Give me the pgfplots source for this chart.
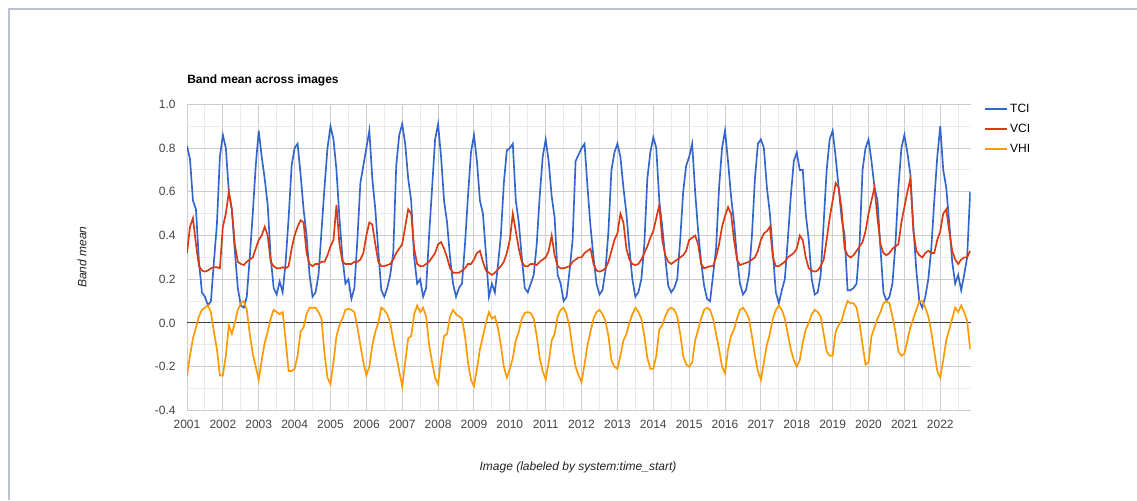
\documentclass[border=0pt]{standalone}
\usepackage{fontspec}
\setmainfont{Liberation Sans}
\usepackage{pgfplots}
\usepackage{pgfplotstable}
\pgfplotsset{compat=1.18}
\definecolor{tci}{RGB}{51,102,204}
\definecolor{vci}{RGB}{220,57,18}
\definecolor{vhi}{RGB}{255,153,0}
\definecolor{gmaj}{RGB}{204,204,204}
\definecolor{gmin}{RGB}{235,235,235}
\definecolor{frame}{RGB}{186,196,208}
\definecolor{ticktext}{RGB}{68,68,68}
\definecolor{labtext}{RGB}{34,34,34}
% y = year, m = month index (0 = January), t = TCI, v = VCI, h = VHI
\pgfplotstableread{
y m t v h
2001 0 0.81 0.32 -0.24
2001 1 0.75 0.44 -0.15
2001 2 0.56 0.48 -0.07
2001 3 0.52 0.36 -0.02
2001 4 0.28 0.26 0.03
2001 5 0.14 0.24 0.06
2001 6 0.12 0.235 0.07
2001 7 0.08 0.24 0.08
2001 8 0.10 0.25 0.05
2001 9 0.28 0.255 -0.04
2001 10 0.45 0.255 -0.12
2001 11 0.76 0.25 -0.24
2002 0 0.86 0.44 -0.24
2002 1 0.80 0.50 -0.15
2002 2 0.60 0.60 -0.01
2002 3 0.52 0.52 -0.05
2002 4 0.33 0.36 0.00
2002 5 0.16 0.28 0.06
2002 6 0.08 0.27 0.09
2002 7 0.07 0.265 0.10
2002 8 0.12 0.28 0.06
2002 9 0.30 0.29 -0.05
2002 10 0.50 0.30 -0.14
2002 11 0.72 0.34 -0.20
2003 0 0.88 0.38 -0.26
2003 1 0.76 0.40 -0.17
2003 2 0.66 0.44 -0.09
2003 3 0.54 0.40 -0.04
2003 4 0.30 0.28 0.02
2003 5 0.16 0.26 0.06
2003 6 0.13 0.25 0.05
2003 7 0.19 0.25 0.04
2003 8 0.14 0.255 0.05
2003 9 0.28 0.25 -0.08
2003 10 0.48 0.26 -0.22
2003 11 0.72 0.34 -0.22
2004 0 0.80 0.40 -0.21
2004 1 0.82 0.44 -0.15
2004 2 0.68 0.47 -0.04
2004 3 0.52 0.46 -0.02
2004 4 0.40 0.32 0.04
2004 5 0.22 0.27 0.07
2004 6 0.12 0.26 0.07
2004 7 0.14 0.27 0.07
2004 8 0.22 0.27 0.05
2004 9 0.42 0.28 0.02
2004 10 0.62 0.28 -0.14
2004 11 0.80 0.31 -0.25
2005 0 0.90 0.35 -0.28
2005 1 0.84 0.38 -0.18
2005 2 0.70 0.54 -0.06
2005 3 0.48 0.36 -0.01
2005 4 0.30 0.28 0.02
2005 5 0.18 0.27 0.06
2005 6 0.20 0.27 0.065
2005 7 0.11 0.27 0.06
2005 8 0.16 0.28 0.05
2005 9 0.38 0.28 -0.02
2005 10 0.64 0.29 -0.10
2005 11 0.72 0.32 -0.18
2006 0 0.80 0.40 -0.24
2006 1 0.88 0.46 -0.20
2006 2 0.66 0.45 -0.10
2006 3 0.52 0.36 -0.04
2006 4 0.33 0.28 0.00
2006 5 0.15 0.26 0.07
2006 6 0.12 0.26 0.06
2006 7 0.16 0.265 0.04
2006 8 0.22 0.27 0.00
2006 9 0.32 0.29 -0.08
2006 10 0.72 0.32 -0.15
2006 11 0.86 0.34 -0.22
2007 0 0.91 0.36 -0.29
2007 1 0.82 0.44 -0.18
2007 2 0.66 0.52 -0.07
2007 3 0.56 0.50 -0.06
2007 4 0.30 0.34 0.04
2007 5 0.18 0.27 0.08
2007 6 0.20 0.26 0.05
2007 7 0.12 0.26 0.07
2007 8 0.16 0.27 0.03
2007 9 0.40 0.28 -0.10
2007 10 0.62 0.30 -0.18
2007 11 0.84 0.32 -0.25
2008 0 0.91 0.36 -0.28
2008 1 0.76 0.37 -0.16
2008 2 0.56 0.34 -0.06
2008 3 0.46 0.30 -0.05
2008 4 0.30 0.25 0.03
2008 5 0.18 0.23 0.06
2008 6 0.12 0.23 0.04
2008 7 0.16 0.23 0.03
2008 8 0.18 0.24 0.02
2008 9 0.36 0.25 -0.06
2008 10 0.58 0.27 -0.18
2008 11 0.78 0.27 -0.26
2009 0 0.86 0.29 -0.29
2009 1 0.74 0.32 -0.21
2009 2 0.56 0.33 -0.12
2009 3 0.50 0.28 -0.06
2009 4 0.32 0.24 0.00
2009 5 0.12 0.23 0.05
2009 6 0.18 0.22 0.02
2009 7 0.14 0.23 0.03
2009 8 0.26 0.245 -0.02
2009 9 0.40 0.26 -0.10
2009 10 0.64 0.28 -0.20
2009 11 0.79 0.32 -0.25
2010 0 0.80 0.38 -0.21
2010 1 0.82 0.50 -0.16
2010 2 0.56 0.42 -0.08
2010 3 0.46 0.34 -0.04
2010 4 0.30 0.28 0.02
2010 5 0.16 0.26 0.045
2010 6 0.14 0.26 0.05
2010 7 0.18 0.27 0.045
2010 8 0.22 0.27 0.02
2010 9 0.36 0.265 -0.06
2010 10 0.58 0.28 -0.16
2010 11 0.76 0.29 -0.22
2011 0 0.84 0.30 -0.26
2011 1 0.74 0.33 -0.18
2011 2 0.58 0.40 -0.08
2011 3 0.48 0.31 -0.05
2011 4 0.22 0.26 0.03
2011 5 0.18 0.25 0.06
2011 6 0.10 0.25 0.07
2011 7 0.12 0.255 0.04
2011 8 0.24 0.26 -0.02
2011 9 0.38 0.28 -0.12
2011 10 0.74 0.29 -0.20
2011 11 0.77 0.30 -0.24
2012 0 0.80 0.30 -0.27
2012 1 0.82 0.32 -0.19
2012 2 0.62 0.33 -0.10
2012 3 0.44 0.34 -0.04
2012 4 0.30 0.27 0.02
2012 5 0.18 0.24 0.05
2012 6 0.13 0.235 0.06
2012 7 0.15 0.24 0.04
2012 8 0.24 0.25 0.01
2012 9 0.42 0.28 -0.06
2012 10 0.70 0.33 -0.17
2012 11 0.78 0.38 -0.20
2013 0 0.82 0.41 -0.21
2013 1 0.76 0.50 -0.15
2013 2 0.62 0.46 -0.08
2013 3 0.50 0.34 -0.05
2013 4 0.34 0.29 0.00
2013 5 0.20 0.27 0.04
2013 6 0.12 0.265 0.07
2013 7 0.14 0.27 0.05
2013 8 0.20 0.29 0.02
2013 9 0.36 0.32 -0.06
2013 10 0.66 0.35 -0.16
2013 11 0.78 0.39 -0.21
2014 0 0.85 0.42 -0.21
2014 1 0.80 0.48 -0.15
2014 2 0.56 0.54 -0.03
2014 3 0.44 0.38 -0.01
2014 4 0.30 0.31 0.03
2014 5 0.17 0.28 0.06
2014 6 0.14 0.27 0.07
2014 7 0.16 0.28 0.06
2014 8 0.20 0.29 0.03
2014 9 0.38 0.30 -0.05
2014 10 0.60 0.31 -0.15
2014 11 0.72 0.33 -0.19
2015 0 0.76 0.38 -0.20
2015 1 0.82 0.39 -0.18
2015 2 0.60 0.40 -0.08
2015 3 0.42 0.36 -0.03
2015 4 0.28 0.27 0.02
2015 5 0.17 0.25 0.06
2015 6 0.11 0.255 0.07
2015 7 0.10 0.26 0.06
2015 8 0.22 0.26 0.02
2015 9 0.34 0.30 -0.05
2015 10 0.62 0.36 -0.12
2015 11 0.80 0.44 -0.20
2016 0 0.88 0.49 -0.23
2016 1 0.74 0.53 -0.12
2016 2 0.58 0.50 -0.06
2016 3 0.46 0.38 -0.03
2016 4 0.30 0.29 0.02
2016 5 0.18 0.265 0.06
2016 6 0.13 0.27 0.07
2016 7 0.15 0.275 0.05
2016 8 0.22 0.28 0.02
2016 9 0.40 0.29 -0.06
2016 10 0.66 0.30 -0.15
2016 11 0.82 0.33 -0.22
2017 0 0.84 0.38 -0.26
2017 1 0.80 0.41 -0.18
2017 2 0.62 0.42 -0.10
2017 3 0.50 0.44 -0.05
2017 4 0.32 0.30 0.02
2017 5 0.14 0.26 0.06
2017 6 0.09 0.26 0.08
2017 7 0.15 0.27 0.06
2017 8 0.20 0.28 0.02
2017 9 0.38 0.30 -0.05
2017 10 0.58 0.31 -0.12
2017 11 0.74 0.32 -0.17
2018 0 0.78 0.34 -0.20
2018 1 0.70 0.40 -0.17
2018 2 0.70 0.38 -0.09
2018 3 0.50 0.30 -0.03
2018 4 0.38 0.25 0.00
2018 5 0.20 0.24 0.04
2018 6 0.13 0.235 0.06
2018 7 0.14 0.24 0.05
2018 8 0.22 0.26 0.03
2018 9 0.46 0.29 -0.05
2018 10 0.70 0.38 -0.13
2018 11 0.84 0.48 -0.15
2019 0 0.88 0.56 -0.15
2019 1 0.76 0.64 -0.04
2019 2 0.62 0.62 -0.01
2019 3 0.48 0.52 0.01
2019 4 0.40 0.34 0.06
2019 5 0.15 0.31 0.10
2019 6 0.15 0.30 0.09
2019 7 0.16 0.31 0.09
2019 8 0.18 0.33 0.07
2019 9 0.36 0.35 0.00
2019 10 0.70 0.37 -0.10
2019 11 0.80 0.42 -0.19
2020 0 0.84 0.50 -0.18
2020 1 0.74 0.56 -0.06
2020 2 0.62 0.62 -0.02
2020 3 0.56 0.48 0.02
2020 4 0.34 0.36 0.05
2020 5 0.14 0.32 0.09
2020 6 0.10 0.31 0.10
2020 7 0.12 0.32 0.09
2020 8 0.18 0.34 0.03
2020 9 0.36 0.35 -0.04
2020 10 0.62 0.36 -0.13
2020 11 0.80 0.46 -0.15
2021 0 0.86 0.53 -0.14
2021 1 0.78 0.60 -0.08
2021 2 0.68 0.66 -0.02
2021 3 0.44 0.42 0.02
2021 4 0.24 0.33 0.06
2021 5 0.10 0.31 0.10
2021 6 0.07 0.30 0.10
2021 7 0.12 0.32 0.07
2021 8 0.20 0.33 0.03
2021 9 0.34 0.32 -0.04
2021 10 0.56 0.32 -0.13
2021 11 0.76 0.38 -0.22
2022 0 0.90 0.42 -0.25
2022 1 0.70 0.50 -0.17
2022 2 0.62 0.52 -0.08
2022 3 0.46 0.42 -0.03
2022 4 0.28 0.33 0.02
2022 5 0.18 0.29 0.07
2022 6 0.22 0.27 0.05
2022 7 0.15 0.29 0.08
2022 8 0.22 0.30 0.05
2022 9 0.30 0.30 0.01
2022 10 0.60 0.33 -0.12
}\bandtable
\begin{document}
\begin{tikzpicture}
\useasboundingbox (0,0) rectangle (852.75pt,375pt);
\fill[white] (0,0) rectangle (852.75pt,375pt);
\draw[frame, line width=1.5pt] (6.75pt,0pt) -- (6.75pt,368.25pt) -- (852.75pt,368.25pt);
\begin{axis}[
  at={(140.25pt,67.2pt)}, anchor=south west,
  width=587.8pt, height=229.5pt, scale only axis,
  xmin=0, xmax=21.85, ymin=-0.4, ymax=1.0,
  axis line style={draw=none},
  tick style={draw=none},
  xtick={0,1,...,21},
  xticklabels={2001,2002,2003,2004,2005,2006,2007,2008,2009,2010,2011,2012,2013,2014,2015,2016,2017,2018,2019,2020,2021,2022},
  minor xtick={0.5,1.5,...,21.5},
  ytick={-0.4,-0.2,0,0.2,0.4,0.6,0.8,1.0},
  minor ytick={-0.3,-0.1,0.1,0.3,0.5,0.7,0.9},
  yticklabel style={/pgf/number format/fixed, /pgf/number format/fixed zerofill, /pgf/number format/precision=1, xshift=-5pt},
  /pgf/number format/assume math mode=true,
  ticklabel style={font=\fontsize{9}{10}\selectfont, text=ticktext},
  xticklabel style={yshift=-3.5pt},
  grid=both,
  major grid style={draw=gmaj, line width=0.75pt},
  minor grid style={draw=gmin, line width=0.75pt},
  extra y ticks={0},
  extra y tick labels={},
  extra y tick style={major grid style={draw=black!75, line width=0.75pt}},
  legend style={draw=none, fill=none, at={(1.016,1.01)}, anchor=north west,
    inner sep=0pt, font=\fontsize{9}{10}\selectfont, row sep=3.2pt,
    legend cell align=left},
  legend image code/.code={\draw[#1, line width=1.5pt] (0pt,0pt) -- (16.5pt,0pt);},
]
\addplot[tci, line width=1.25pt] table[x expr=\thisrow{y}-2001+\thisrow{m}/12, y=t] {\bandtable};
\addlegendentry{TCI}
\addplot[vci, line width=1.25pt] table[x expr=\thisrow{y}-2001+\thisrow{m}/12, y=v] {\bandtable};
\addlegendentry{VCI}
\addplot[vhi, line width=1.25pt] table[x expr=\thisrow{y}-2001+\thisrow{m}/12, y=h] {\bandtable};
\addlegendentry{VHI}
\end{axis}
\node[anchor=west, inner sep=0pt, font=\bfseries\fontsize{9}{10}\selectfont, text=black] at (140.25pt,315pt) {Band mean across images};
\node[rotate=90, font=\itshape\fontsize{9}{10}\selectfont, text=labtext] at (61.5pt,182.25pt) {Band mean};
\node[font=\itshape\fontsize{9}{10}\selectfont, text=labtext] at (433.5pt,24.75pt) {Image (labeled by system:time\_start)};
\end{tikzpicture}
\end{document}
